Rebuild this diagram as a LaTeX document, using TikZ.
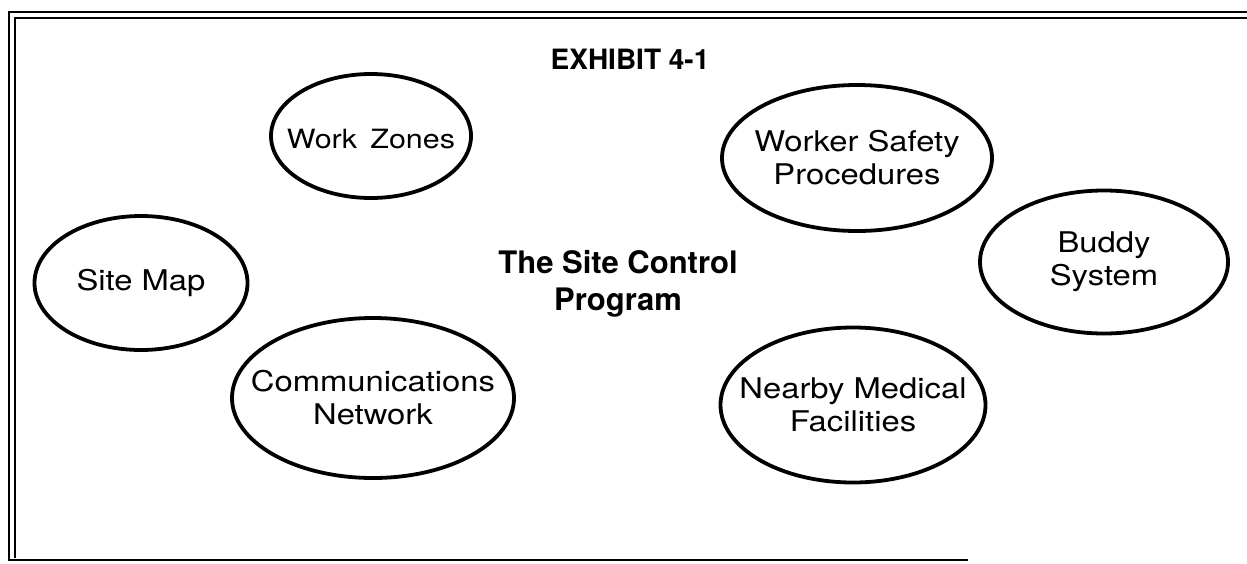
\documentclass[tikz,border=0pt]{standalone}
\usepackage{fontspec}
\setmainfont{TeX Gyre Heros}
\newfontfamily\widefont{TeX Gyre Heros}[FakeStretch=1.15]
\usetikzlibrary{shapes.geometric}
\begin{document}
\begin{tikzpicture}[x=1pt,y=-1pt,
  topic/.style={draw, ellipse, line width=3.8pt, inner sep=0pt},
  topictext/.style={inner sep=0pt, align=center,
    font=\widefont\fontsize{28.5}{33}\selectfont},
  frameline/.style={line width=2.2pt},
  heading/.style={font=\fontsize{28}{32}\bfseries\selectfont, inner sep=0pt},
  centre/.style={font=\fontsize{31}{37}\bfseries\selectfont, align=center, inner sep=0pt}]
\useasboundingbox (0,0) rectangle (1247,563);
% frame
\coordinate (tl1) at (9,12);
\coordinate (tr1) at (1247,12);
\coordinate (tl2) at (15,18);
\coordinate (tr2) at (1247,18);
\coordinate (bl1) at (9,560);
\coordinate (bl2) at (15,558);
\coordinate (br) at (968,560);
\draw[frameline] (tr1) -- (tl1) -- (bl1) -- (br);
\draw[frameline, line width=1.8pt] (tr2) -- (tl2) -- (bl2);
% title
\node[heading] (title) at (630,59) {EXHIBIT 4-1};
\node[centre] (prog) at (618,284) {The Site Control\\Program};
% topics
\node[topic, minimum width=200pt, minimum height=124pt] (wz) at (371,136) {};
\node[topictext, font=\widefont\fontsize{26.5}{33}\selectfont] (wzt) at ([yshift=-3pt]wz.center) {Work\hspace{0.5em}Zones};
\node[topic, minimum width=270pt, minimum height=146pt] (wsp) at (857,158) {};
\node[topictext] (wspt) at (wsp.center) {Worker Safety\\Procedures};
\node[topic, minimum width=213pt, minimum height=134pt] (sm) at (141,283) {};
\node[topictext] (smt) at (sm.center) {Site Map};
\node[topic, minimum width=248pt, minimum height=143pt] (bs) at (1104,262) {};
\node[topictext] (bst) at (bs.center) {Buddy\\System};
\node[topic, minimum width=282pt, minimum height=160pt] (cn) at (373,398) {};
\node[topictext] (cnt) at (cn.center) {Communications\\Network};
\node[topic, minimum width=265pt, minimum height=155pt] (nmf) at (853,405) {};
\node[topictext] (nmft) at (nmf.center) {Nearby Medical\\Facilities};
\end{tikzpicture}
\end{document}
